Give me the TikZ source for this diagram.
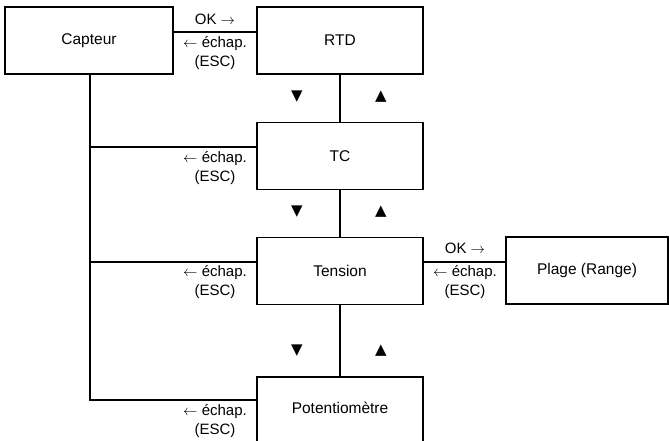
\documentclass[tikz,border=0pt]{standalone}
\usepackage{fontspec}
\setmainfont{Liberation Sans}
\newfontfamily\symfont{DejaVu Sans}
\begin{document}
\begin{tikzpicture}[x=1pt,y=-1pt,
  menubox/.style={draw,line width=1.2pt,minimum width=166pt,minimum height=67pt,inner sep=0pt,font=\fontsize{15.5}{18}\selectfont},
  lbl/.style={align=center,inner sep=0pt,font=\fontsize{15}{19}\selectfont},
  tri/.style={inner sep=0pt,font=\symfont\fontsize{15}{15}\selectfont},
  link/.style={line width=1.2pt}]
\useasboundingbox (0,0) rectangle (669,441);
\clip (0,0) rectangle (669,441);
% menu boxes
\node[menubox,minimum width=168pt] (cap) at (89,40.5) {Capteur};
\node[menubox] (rtd) at (340,40.5) {RTD};
\node[menubox] (tc) at (340,156) {TC};
\node[menubox] (ten) at (340,271) {Tension};
\node[menubox,minimum width=162pt] (plage) at (587,270.5) {Plage (Range)};
\node[menubox] (pot) at (340,410.5) {};
\node[lbl,font=\fontsize{15.5}{18}\selectfont] (pottxt) at (340,408) {Potentiomètre};
% OK / escape links
\draw[link] ([yshift=8.5pt]cap.east) -- ([yshift=8.5pt]rtd.west);
\draw[link] ([yshift=9pt]ten.east) -- ([yshift=8.5pt]plage.west);
\node[lbl] (ok1) at (215,19) {OK $\rightarrow$};
\node[lbl] (esc1) at (215,53) {$\leftarrow$ échap.\\(ESC)};
\node[lbl] (ok2) at (465,248) {OK $\rightarrow$};
\node[lbl] (esc2) at (465,282) {$\leftarrow$ échap.\\(ESC)};
% escape back to Capteur
\draw[link] (cap.south) ++(1pt,0) coordinate (capb) |- ([yshift=10.5pt]pot.west);
\draw[link] (capb |- tc.west) ++(0,9pt) coordinate (j1) -- ([yshift=9pt]tc.west);
\draw[link] (capb |- ten.west) ++(0,9pt) coordinate (j2) -- ([yshift=9pt]ten.west);
\node[lbl] (esc3) at (215,168) {$\leftarrow$ échap.\\(ESC)};
\node[lbl] (esc4) at (215,282) {$\leftarrow$ échap.\\(ESC)};
\node[lbl] (esc5) at (215,421) {$\leftarrow$ échap.\\(ESC)};
% up/down navigation
\draw[link] (rtd.south) -- (tc.north);
\draw[link] (tc.south) -- (ten.north);
\draw[link] (ten.south) -- (pot.north);
\node[tri] (d1) at (297,97) {▼};
\node[tri] (u1) at (381,97) {▲};
\node[tri] (d2) at (297,212) {▼};
\node[tri] (u2) at (381,212) {▲};
\node[tri] (d3) at (297,351) {▼};
\node[tri] (u3) at (381,351) {▲};
\end{tikzpicture}
\end{document}
